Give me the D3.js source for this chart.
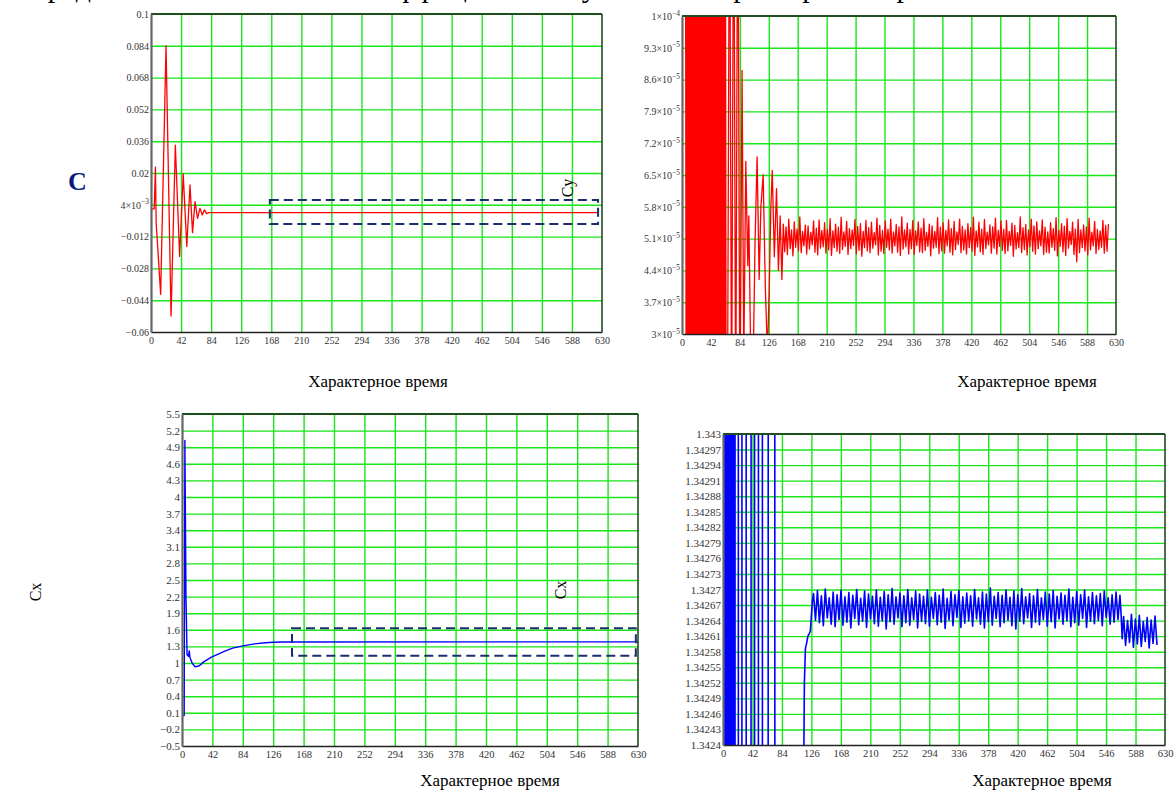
<!DOCTYPE html>
<html><head><meta charset="utf-8">
<script src="https://cdn.jsdelivr.net/npm/d3@7"></script>
<style>
html,body{margin:0;padding:0;background:#fff;}
svg{display:block;font-family:"Liberation Serif","Times New Roman",serif;}
</style></head><body>
<svg id="chart" width="1176" height="792"></svg>
<script>
// ---- shared time axis ----
const timeTicks = [0,42,84,126,168,210,252,294,336,378,420,462,504,546,588,630];

// ---- Cy, full range ----
const cyTicks = [-0.06,-0.044,-0.028,-0.012,0.004,0.02,0.036,0.052,0.068,0.084,0.1];
const cyTickLabels = [["−0.06"],["−0.044"],["−0.028"],["−0.012"],["4×10","−3"],["0.02"],["0.036"],["0.052"],["0.068"],["0.084"],["0.1"]];
const cyTime  = [0, 4.5, 6.2, 7.2, 13.5, 21, 28, 34, 40, 45, 50, 54.5, 58, 61.5, 65, 68.4, 71.7, 74.5, 77.8, 81, 625];
const cyValue = [0.002, 0.002, 0.023, -0.005, -0.041, 0.084, -0.052, 0.034, -0.022, 0.0195, -0.017, 0.014, -0.010, 0.0056, -0.0028, 0.0022, -0.0011, 0.0014, -0.0004, 0.00005, 0.00005];
const cyZoomBox = {t0: 166, t1: 624.5, v0: -0.0057, v1: 0.0064};

// ---- Cy, zoomed range (values ×1e-6) ----
const cyFineTicks = [30,37,44,51,58,65,72,79,86,93,100];
const cyFineTickLabels = [["3×10","−5"],["3.7×10","−5"],["4.4×10","−5"],["5.1×10","−5"],["5.8×10","−5"],["6.5×10","−5"],["7.2×10","−5"],["7.9×10","−5"],["8.6×10","−5"],["9.3×10","−5"],["1×10","−4"]];
// start-up: jump at t=0, then saturated swings well outside the window
const cyFineStartTime  = [0, 0.5, 4.8];
const cyFineStartValue = [0, 2000, 2000];
const cyFineBurstStart = 5, cyFineBurstStep = 1;
const cyFineBurst = [140,10,140,10,140,10,140,10,140,10,140,10,140,10,140,10,140,10,140,10,
                     140,10,140,10,140,10,140,10,140,10,140,10,140,10,140,10,140,10,140,10,
                     140,10,140,10,140,10,140,10,140,10,140,10,140,10,140,10,140,10,140,10];
// decaying swings
const cyFineDecayTime  = [66, 69, 72, 75, 78, 81, 84, 87.2, 89.7, 92.6, 95.5, 97, 100, 103, 106, 109, 112, 114.5, 117.8, 121, 124, 126.5, 129, 131, 134, 137.2, 140, 142.5, 145];
const cyFineDecayValue = [10, 140, 10, 140, 10, 140, 10, 88, 24, 68, 45, 56, 22, 20, 50, 69, 42, 58, 65, 40, 26, 39, 58, 66, 47, 62, 44, 56, 42];
// settled oscillation, sampled every 2 time units from t=147
const cyFineSteadyStart = 147, cyFineSteadyStep = 2;
const cyFineSteady = [
54.2,48.1,53.6,47.5,55.3,48.8,52.9,47.2,54.7,49.1,
53.1,48.3,55.8,47.9,52.6,49.4,54.0,47.6,53.8,48.7,
52.4,49.6,54.9,48.0,53.3,47.4,55.1,48.9,52.8,49.2,
54.5,47.8,53.0,48.5,55.4,47.3,52.7,49.0,54.2,48.2,
53.5,47.7,55.7,48.6,52.5,49.3,54.8,47.5,53.2,48.8,
52.9,49.5,55.2,47.6,53.7,48.4,54.3,47.1,52.6,49.0,
55.0,48.3,53.4,47.9,54.6,48.9,52.3,49.6,55.5,47.4,
53.9,48.2,52.8,47.7,54.9,49.1,53.1,48.5,55.3,47.8,
52.5,49.4,54.1,48.0,53.6,47.3,55.8,48.7,52.9,49.2,
54.4,47.6,53.0,48.8,55.0,47.5,52.7,49.5,54.7,48.1,
53.3,47.9,55.4,48.4,52.4,49.3,54.2,47.2,53.8,48.9,
52.6,49.1,55.6,47.7,53.5,48.3,54.5,47.8,52.8,49.4,
55.1,48.0,53.2,47.4,54.8,48.6,52.5,49.7,55.3,47.9,
53.7,48.5,52.9,47.6,54.3,49.0,53.4,48.2,55.7,47.3,
52.7,49.2,54.6,48.1,53.1,47.5,55.2,48.8,52.4,49.6,
54.0,47.8,53.6,48.9,55.5,47.6,52.8,49.3,54.9,48.4,
53.0,47.7,55.0,48.3,52.6,49.5,54.4,47.1,53.9,48.7,
52.3,49.0,55.8,47.9,53.4,48.6,54.1,47.4,52.9,49.2,
55.3,48.2,53.8,47.6,54.7,48.8,52.7,49.4,55.1,47.5,
53.5,48.0,52.5,47.8,54.5,49.1,53.2,48.4,55.6,47.2,
52.8,49.3,54.3,48.1,53.7,47.3,55.4,48.9,52.6,49.7,
54.6,47.5,53.1,45.9,55.2,47.9,52.9,49.0,54.0,48.3,
53.6,47.4,55.5,48.5,52.4,49.4,54.8,47.7,53.0,48.6,
52.7,49.1,55.0,47.8,53.9,48.2,54.2];

// ---- Cx, full range ----
const cxTicks = [-0.5,-0.2,0.1,0.4,0.7,1,1.3,1.6,1.9,2.2,2.5,2.8,3.1,3.4,3.7,4,4.3,4.6,4.9,5.2,5.5];
const cxTickLabels = ["−0.5","−0.2","0.1","0.4","0.7","1","1.3","1.6","1.9","2.2","2.5","2.8","3.1","3.4","3.7","4","4.3","4.6","4.9","5.2","5.5"];
const cxTime  = [0, 3, 4, 5.5, 7, 9, 10, 11, 14, 18, 24, 30, 40, 50, 60, 70, 84, 100, 115, 126, 140, 630];
const cxValue = [0.05, 0.05, 5.02, 2.2, 1.15, 1.12, 1.22, 1.1, 1.0, 0.93, 0.95, 1.02, 1.1, 1.16, 1.22, 1.27, 1.31, 1.345, 1.365, 1.375, 1.38, 1.382];
const cxZoomBox = {t0: 152, t1: 627, v0: 1.13, v1: 1.63};

// ---- Cx, zoomed range ----
const cxFineTicks = [1.3424,1.34243,1.34246,1.34249,1.34252,1.34255,1.34258,1.34261,1.34264,1.34267,1.3427,1.34273,1.34276,1.34279,1.34282,1.34285,1.34288,1.34291,1.34294,1.34297,1.343];
const cxFineTickLabels = ["1.3424","1.34243","1.34246","1.34249","1.34252","1.34255","1.34258","1.34261","1.34264","1.34267","1.3427","1.34273","1.34276","1.34279","1.34282","1.34285","1.34288","1.34291","1.34294","1.34297","1.343"];
const cxFineBurstStart = 0, cxFineBurstStep = 0.7;
const cxFineBurst = [1.30,1.38,1.30,1.38,1.30,1.38,1.30,1.38,1.30,1.38,1.30,1.38,1.30,1.38,1.30,1.38,1.30,1.38,1.30,1.38,1.30,1.38,1.30,1.38,1.30,1.38];
const cxFineSwingTime  = [20.2, 23.8, 29.75, 36.85, 42.8, 47.55, 53.05, 59.75, 68.5, 80, 112, 116, 117.5, 119, 121, 123, 124.5, 126, 127.5];
const cxFineSwingValue = [1.38, 1.30, 1.38, 1.30, 1.38, 1.30, 1.38, 1.30, 1.38, 1.30, 1.3418, 1.34252, 1.342587, 1.342595, 1.34261, 1.342615, 1.34262, 1.34265, 1.34268];
const cxFineSteadyStart = 129, cxFineSteadyStep = 2.8;
const cxFineSteady = [
1.342692,1.342641,1.342698,1.342636,1.342688,1.342630,1.342701,1.342645,1.342684,1.342633,1.342695,1.342628,1.342690,1.342642,1.342699,1.342631,1.342686,1.342637,1.342694,1.342626,
1.342689,1.342644,1.342700,1.342632,1.342683,1.342639,1.342697,1.342627,1.342691,1.342643,1.342687,1.342634,1.342699,1.342629,1.342685,1.342640,1.342696,1.342624,1.342690,1.342638,
1.342702,1.342633,1.342686,1.342645,1.342693,1.342628,1.342688,1.342636,1.342700,1.342631,1.342684,1.342642,1.342697,1.342626,1.342691,1.342639,1.342687,1.342634,1.342699,1.342629,
1.342685,1.342644,1.342694,1.342632,1.342689,1.342637,1.342701,1.342625,1.342683,1.342641,1.342696,1.342630,1.342690,1.342646,1.342698,1.342627,1.342686,1.342635,1.342693,1.342640,
1.342688,1.342629,1.342700,1.342643,1.342684,1.342633,1.342695,1.342626,1.342691,1.342638,1.342703,1.342631,1.342687,1.342644,1.342694,1.342628,1.342689,1.342636,1.342699,1.342641,
1.342685,1.342630,1.342697,1.342624,1.342690,1.342639,1.342702,1.342634,1.342686,1.342645,1.342692,1.342627,1.342688,1.342637,1.342700,1.342632,1.342684,1.342642,1.342695,1.342629,
1.342691,1.342638,1.342698,1.342626,1.342687,1.342643,1.342693,1.342633,1.342689,1.342640,1.342701,1.342628,1.342685,1.342636,1.342696,1.342631,1.342690,1.342644,1.342699,1.342627,
1.342686,1.342639,1.342694,1.342634,1.342688,1.342641,1.342692,1.342630,1.342697,1.342646,1.342684,1.342633,1.342690,1.342637,1.342695,1.342642,
1.342689];
const cxFineDropTime  = [567.5, 569];
const cxFineDropValue = [1.342650, 1.342605];
const cxFineLowStart = 571, cxFineLowStep = 2.8;
const cxFineLow = [1.342648,1.342592,1.342640,1.342598,1.342652,1.342588,1.342643,1.342595,1.342650,1.342590,1.342638,1.342600,1.342646,1.342587,1.342641,1.342596,1.342649,1.342593];

// ---- helpers to assemble [t, v] point lists ----
const pairs = (ts, vs) => ts.map((t, i) => [t, vs[i]]);
const sampled = (t0, dt, vs) => vs.map((v, i) => [t0 + i * dt, v]);

const cySeries = pairs(cyTime, cyValue);
const cyFineSeries = [].concat(
  pairs(cyFineStartTime, cyFineStartValue),
  sampled(cyFineBurstStart, cyFineBurstStep, cyFineBurst),
  pairs(cyFineDecayTime, cyFineDecayValue),
  sampled(cyFineSteadyStart, cyFineSteadyStep, cyFineSteady)
).map(d => [d[0], d[1] * 1e-6]);
const cxSeries = pairs(cxTime, cxValue);
const cxFineSeries = [].concat(
  sampled(cxFineBurstStart, cxFineBurstStep, cxFineBurst),
  pairs(cxFineSwingTime, cxFineSwingValue),
  sampled(cxFineSteadyStart, cxFineSteadyStep, cxFineSteady),
  pairs(cxFineDropTime, cxFineDropValue),
  sampled(cxFineLowStart, cxFineLowStep, cxFineLow)
);

const svg = d3.select("#chart");

// heading line (runs off the top edge of the page)
svg.append("text").attr("x", 10).attr("y", -3)
  .attr("font-size", 30).attr("fill", "#000")
  .text("Определение зависимости коэффициентов Cy и Cx от характерного времени");

let clipId = 0;
function drawPanel(o) {
  const g = svg.append("g").attr("transform", `translate(${o.left},${o.top})`);
  const x = d3.scaleLinear().domain([0, 630]).range([0, o.width]);
  const y = d3.scaleLinear().domain(o.yDomain).range([o.height, 0]);

  // grid
  g.append("g").attr("transform", `translate(0,${o.height})`)
    .call(d3.axisBottom(x).tickValues(timeTicks.slice(1, -1)).tickSize(-o.height).tickFormat(""))
    .call(a => a.select(".domain").remove())
    .selectAll("line").attr("stroke", "#19e619").attr("stroke-width", 1.4);
  g.append("g")
    .call(d3.axisLeft(y).tickValues(o.yTicks.slice(1, -1)).tickSize(-o.width).tickFormat(""))
    .call(a => a.select(".domain").remove())
    .selectAll("line").attr("stroke", "#19e619").attr("stroke-width", 1.4);

  // curve
  const id = "clip" + (clipId++);
  g.append("clipPath").attr("id", id).append("rect")
    .attr("width", o.width).attr("height", o.height);
  const line = d3.line().x(d => x(d[0])).y(d => y(d[1]));
  g.append("path").datum(o.series)
    .attr("clip-path", `url(#${id})`)
    .attr("fill", "none").attr("stroke", o.color)
    .attr("stroke-width", o.lineWidth).attr("stroke-linejoin", "round")
    .attr("d", line);

  // dashed frame around the settled part
  if (o.box) {
    g.append("rect")
      .attr("x", x(o.box.t0)).attr("y", y(o.box.v1))
      .attr("width", x(o.box.t1) - x(o.box.t0)).attr("height", y(o.box.v0) - y(o.box.v1))
      .attr("fill", "none").attr("stroke", "#1c2c6c").attr("stroke-width", 2)
      .attr("stroke-dasharray", "9,5");
  }

  // frame
  g.append("line").attr("x1", 0).attr("x2", o.width).attr("y1", 0).attr("y2", 0)
    .attr("stroke", "#1e4d1e").attr("stroke-width", 2);
  g.append("line").attr("x1", o.width).attr("x2", o.width).attr("y1", 0).attr("y2", o.height)
    .attr("stroke", "#1e4d1e").attr("stroke-width", 1.6);

  // axes with labels
  const xa = g.append("g").attr("transform", `translate(0,${o.height})`)
    .call(d3.axisBottom(x).tickValues(timeTicks).tickSize(0).tickPadding(5).tickFormat(d3.format("d")));
  xa.select(".domain").attr("stroke", "#222").attr("stroke-width", 1.6);
  xa.selectAll("text").attr("font-family", "Liberation Serif").attr("font-size", o.xFont).attr("fill", "#333");

  const ya = g.append("g")
    .call(d3.axisLeft(y).tickValues(o.yTicks).tickSize(0).tickPadding(2).tickFormat(""));
  ya.select(".domain").attr("stroke", "#666").attr("stroke-width", 2.2);
  ya.selectAll(".tick text").each(function(d, i) {
    const t = d3.select(this).attr("font-family", "Liberation Serif")
      .attr("font-size", o.yFont).attr("fill", "#333");
    const lab = o.yLabels[i];
    if (Array.isArray(lab)) {
      t.append("tspan").text(lab[0]);
      if (lab[1]) t.append("tspan").attr("dy", "-0.55em").attr("font-size", o.yFont * 0.75).text(lab[1]);
    } else {
      t.text(lab);
    }
  });
  return {x, y};
}

drawPanel({left: 151, top: 14, width: 451, height: 318,
  yDomain: [-0.06, 0.1], yTicks: cyTicks, yLabels: cyTickLabels,
  series: cySeries, color: "#ff0000", lineWidth: 1.3, box: cyZoomBox, xFont: 10, yFont: 10});
drawPanel({left: 682, top: 16, width: 434, height: 318,
  yDomain: [3e-5, 1e-4], yTicks: cyFineTicks.map(v => v * 1e-6), yLabels: cyFineTickLabels,
  series: cyFineSeries, color: "#ff0000", lineWidth: 1.3, xFont: 10, yFont: 10});
drawPanel({left: 182, top: 414, width: 456, height: 332,
  yDomain: [-0.5, 5.5], yTicks: cxTicks, yLabels: cxTickLabels,
  series: cxSeries, color: "#0000ff", lineWidth: 1.4, box: cxZoomBox, xFont: 10.5, yFont: 11});
drawPanel({left: 723, top: 434, width: 442, height: 311,
  yDomain: [1.3424, 1.343], yTicks: cxFineTicks, yLabels: cxFineTickLabels,
  series: cxFineSeries, color: "#0000ff", lineWidth: 1.6, xFont: 10.5, yFont: 11});

// axis titles
const xTitle = "Характерное время";
[[378, 387], [1027, 387], [490, 786], [1042, 786]].forEach(p => {
  svg.append("text").attr("x", p[0]).attr("y", p[1]).attr("text-anchor", "middle")
    .attr("font-size", 17).text(xTitle);
});
const yTitle = (label, xPos, yPos) => svg.append("text")
  .attr("transform", `translate(${xPos},${yPos}) rotate(-90)`)
  .attr("text-anchor", "middle").attr("font-size", 16).text(label);
yTitle("Cy", 573, 188);
yTitle("Cx", 41, 592);
yTitle("Cx", 566, 590);
svg.append("text").attr("x", 68).attr("y", 190)
  .attr("font-size", 26).attr("font-weight", "bold").attr("fill", "#0b1a80").text("C");
</script>
</body></html>
